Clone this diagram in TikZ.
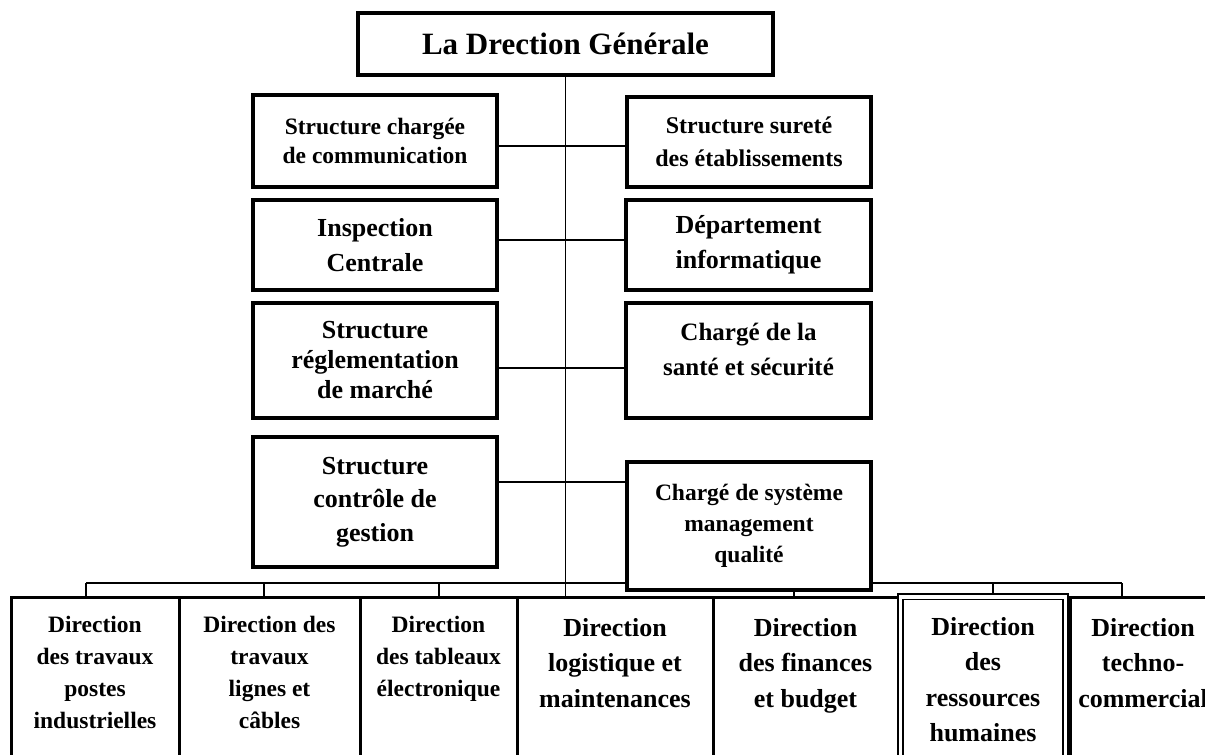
\documentclass[tikz,border=0pt]{standalone}
\usepackage{fontspec}
\setmainfont{Liberation Serif}
\usetikzlibrary{backgrounds}
\newcommand\setfs[2]{\fontsize{#1}{#2}\selectfont}
\begin{document}
\begin{tikzpicture}[x=1pt,y=-1pt,
  box/.style={draw, line width=3.2pt, fill=white, align=center, inner sep=0pt},
  fz/.style 2 args={font=\bfseries\setfs{#1}{#2}},
  link/.style={line width=1.6pt},
  dirbox/.style={draw, line width=3pt, fill=white, inner sep=0pt, anchor=north, font=\bfseries},
  dbl/.style={draw, line width=1.8pt, double, double distance=3.5pt, fill=white, inner sep=0pt, anchor=north, font=\bfseries},
]
\useasboundingbox (0,0) rectangle (1205,755);
\clip (0,0) rectangle (1205,755);

% head
\node[box, fz={31}{36}, minimum width=415pt, minimum height=62pt] (top) at (565.5,44) {La Drection Générale};

% staff structures
\node[box, fz={23.5}{29}, minimum width=244pt, minimum height=92pt] (s1L) at (375,141) {Structure chargée\\de communication};
\node[box, fz={24}{33}, minimum width=244pt, minimum height=90pt] (s1R) at (749,142) {Structure sureté\\des établissements};
\node[box, fz={26}{35}, minimum width=244pt, minimum height=90pt] (s2L) at (375,245) {Inspection\\Centrale};
\node[box, fz={26}{35}, minimum width=245pt, minimum height=90pt] (s2R) at (748.5,245) {Département\\informatique};
\node[box, fz={26}{30}, minimum width=244pt, minimum height=115pt] (s3L) at (375,360.5) {Structure\\réglementation\\de marché};
\node[box, fz={25}{35}, minimum width=245pt, minimum height=115pt] (s3R) at (748.5,360.5) {Chargé de la\\santé et sécurité\\[-12pt]\mbox{}};
\node[box, fz={26}{33.5}, minimum width=244pt, minimum height=130pt] (s4L) at (375,502) {Structure\\contrôle de\\gestion};
\node[box, fz={23.5}{31}, minimum width=244pt, minimum height=128pt] (s4R) at (749,526) {Chargé de système\\management\\qualité};

% directions
\node[dirbox, minimum width=168pt] (b1) at (95,596) {\parbox[t][200pt][t]{160pt}{\centering\setfs{23.5}{32}\rule{0pt}{35pt}Direction\\des travaux\\postes\\industrielles}};
\node[dirbox, minimum width=181pt] (b2) at (269.5,596) {\parbox[t][200pt][t]{170pt}{\centering\setfs{23.5}{32}\rule{0pt}{35pt}Direction des\\travaux\\lignes et\\câbles}};
\node[dirbox, minimum width=157pt] (b3) at (438.5,596) {\parbox[t][200pt][t]{152pt}{\centering\setfs{23.5}{32}\rule{0pt}{35pt}Direction\\des tableaux\\électronique}};
\node[dirbox, minimum width=196pt] (b4) at (615,596) {\parbox[t][200pt][t]{185pt}{\centering\setfs{26}{35.5}\rule{0pt}{38.5pt}Direction\\logistique et\\maintenances}};
\node[dirbox, minimum width=185pt] (b5) at (805.5,596) {\parbox[t][200pt][t]{175pt}{\centering\setfs{26}{35.5}\rule{0pt}{38.5pt}Direction\\des finances\\et budget}};
\node[dbl, minimum width=165pt] (b6) at (983,596) {\parbox[t][200pt][t]{155pt}{\centering\setfs{26}{35.5}\rule{0pt}{38.5pt}Direction\\des\\ressources\\humaines}};
\node[dirbox, minimum width=146pt] (b7) at (1143,596) {\parbox[t][200pt][t]{146pt}{\centering\setfs{26}{35.5}\rule{0pt}{38.5pt}Direction\\techno-\\commercial}};

% bus points
\coordinate (bus1) at (86,583);
\coordinate (bus2) at (264,583);
\coordinate (bus3) at (439,583);
\coordinate (bus6) at (993,583);
\coordinate (bus7) at (1122,583);

\begin{scope}[on background layer]
  \draw[link] (top.south) -- (top.south |- b4.north);
  \draw[link] ([yshift=-5pt]s1L.east) -- ([yshift=-5pt]s1L.east -| s1R.west);
  \draw[link] ([yshift=5pt]s2L.east) -- ([yshift=5pt]s2L.east -| s2R.west);
  \draw[link] ([yshift=-7.5pt]s3L.east) -- ([yshift=-7.5pt]s3L.east -| s3R.west);
  \draw[link] ([yshift=20pt]s4L.east) -- ([yshift=20pt]s4L.east -| s4R.west);
  \draw[link] (bus1) -- (bus7);
  \draw[link] (bus1) -- (bus1 |- b1.north);
  \draw[link] (bus2) -- (bus2 |- b2.north);
  \draw[link] (bus3) -- (bus3 |- b3.north);
  \draw[link] ([xshift=45pt]s4R.south) -- ([xshift=45pt]s4R.south |- b5.north);
  \draw[link] (bus6) -- (bus6 |- b6.north);
  \draw[link] (bus7) -- (bus7 |- b7.north);
\end{scope}
\end{tikzpicture}
\end{document}
